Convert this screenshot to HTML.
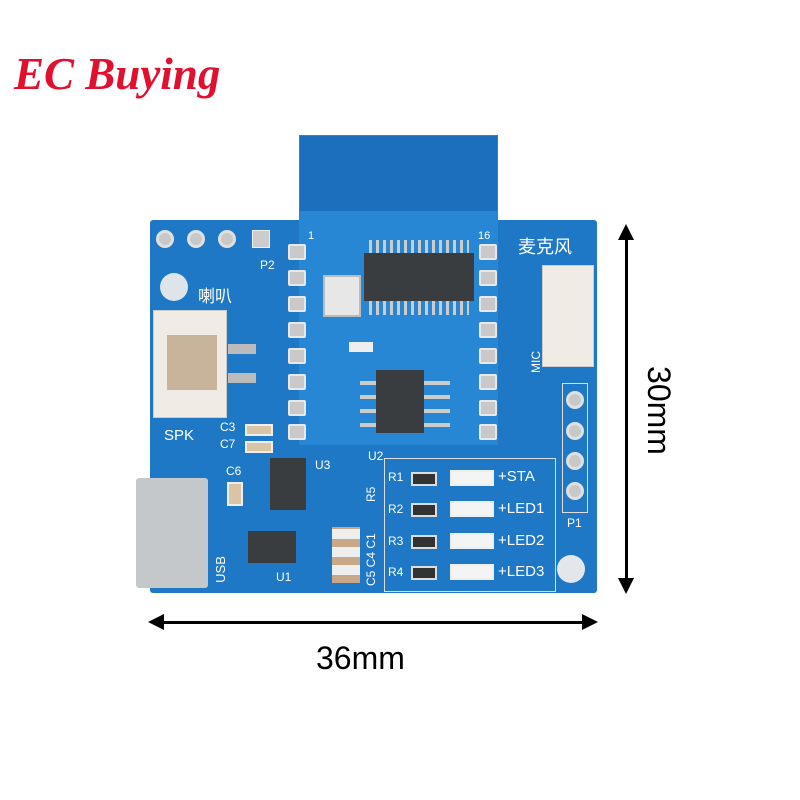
<!DOCTYPE html><html><head><style>
body{margin:0;width:800px;height:800px;background:#fff;position:relative;overflow:hidden;font-family:"Liberation Sans","Noto Sans CJK SC",sans-serif}
.a{position:absolute}
.pad{position:absolute;width:14px;height:12px;background:#c9c9c9;border:2px solid #e8e8e8;border-radius:2px}
.hole{position:absolute;width:12px;height:12px;border-radius:50%;background:#c8c8c8;border:3px solid #e0e0e0}
.t{position:absolute;color:#fff;font-size:14px}
.led{position:absolute;width:40px;height:12px;border:2px solid #eee;background:#f4f4f4}
.res{position:absolute;width:22px;height:10px;border:2px solid #ddd;background:#333}
</style></head><body>
<div class="a" style="left:14px;top:48px;font:italic bold 45px 'Liberation Serif',serif;color:#e0102e">EC Buying</div>
<div class="a" style="left:150px;top:220px;width:447px;height:373px;background:#1e78c6;border-radius:3px"></div>
<div class="a" style="left:299px;top:135px;width:199px;height:310px;background:#2787d4"></div>
<div class="a" style="left:300px;top:136px;width:197px;height:75px;background:#1c6fbd"></div>
<div class="hole" style="left:156px;top:230px"></div><div class="hole" style="left:187px;top:230px"></div><div class="hole" style="left:218px;top:230px"></div>
<div class="a" style="left:252px;top:230px;width:16px;height:16px;background:#ccc;border:1px solid #eee"></div>
<div class="t" style="left:260px;top:258px;font-size:12px">P2</div>
<div class="a" style="left:160px;top:273px;width:28px;height:28px;border-radius:50%;background:#dde4ea"></div>
<div class="t" style="left:198px;top:282px;font-size:17px">喇叭</div>
<div class="a" style="left:153px;top:310px;width:72px;height:106px;background:#f0ebe4;border:1px solid #ccc"></div>
<div class="a" style="left:167px;top:335px;width:50px;height:55px;background:#c8b49a"></div>
<div class="a" style="left:228px;top:344px;width:28px;height:10px;background:#bbb"></div>
<div class="a" style="left:228px;top:373px;width:28px;height:10px;background:#bbb"></div>
<div class="t" style="left:164px;top:427px;font-size:15px">SPK</div>
<div class="t" style="left:220px;top:420px;font-size:12px">C3</div><div class="t" style="left:220px;top:437px;font-size:12px">C7</div>
<div class="a" style="left:245px;top:424px;width:24px;height:8px;background:#d9c4a6;border:2px solid #eee"></div>
<div class="a" style="left:245px;top:441px;width:24px;height:8px;background:#d9c4a6;border:2px solid #eee"></div>
<div class="pad" style="left:288px;top:244px"></div><div class="pad" style="left:288px;top:270px"></div><div class="pad" style="left:288px;top:296px"></div><div class="pad" style="left:288px;top:322px"></div><div class="pad" style="left:288px;top:348px"></div><div class="pad" style="left:288px;top:374px"></div><div class="pad" style="left:288px;top:400px"></div><div class="pad" style="left:288px;top:424px"></div>
<div class="pad" style="left:479px;top:244px"></div><div class="pad" style="left:479px;top:270px"></div><div class="pad" style="left:479px;top:296px"></div><div class="pad" style="left:479px;top:322px"></div><div class="pad" style="left:479px;top:348px"></div><div class="pad" style="left:479px;top:374px"></div><div class="pad" style="left:479px;top:400px"></div><div class="pad" style="left:479px;top:424px"></div>
<div class="t" style="left:308px;top:230px;font-size:11px">1</div><div class="t" style="left:478px;top:230px;font-size:11px">16</div>
<div class="a" style="left:369px;top:240px;width:100px;height:75px;background:repeating-linear-gradient(90deg,#ccc 0 3px,transparent 3px 7px)"></div>
<div class="a" style="left:364px;top:253px;width:110px;height:48px;background:#3a3d40"></div>
<div class="a" style="left:323px;top:275px;width:34px;height:38px;background:#e7e7e7;border:2px solid #bbb"></div>
<div class="a" style="left:360px;top:373px;width:90px;height:60px;background:repeating-linear-gradient(0deg,transparent 0 6px,#ccc 6px 10px,transparent 10px 14px)"></div>
<div class="a" style="left:376px;top:370px;width:48px;height:63px;background:#3a3d40"></div>
<div class="a" style="left:349px;top:342px;width:24px;height:10px;background:#eee"></div>
<div class="t" style="left:368px;top:449px;font-size:12px">U2</div>
<div class="t" style="left:518px;top:233px;font-size:18px">麦克风</div>
<div class="a" style="left:542px;top:265px;width:50px;height:100px;background:#f0ebe4;border:1px solid #ccc"></div>
<div class="t" style="left:525px;top:355px;font-size:12px;transform:rotate(-90deg)">MIC</div>
<div class="a" style="left:562px;top:383px;width:24px;height:128px;border:1px solid #ddd"></div>
<div class="hole" style="left:566px;top:391px"></div><div class="hole" style="left:566px;top:422px"></div><div class="hole" style="left:566px;top:452px"></div><div class="hole" style="left:566px;top:482px"></div>
<div class="t" style="left:567px;top:516px;font-size:12px">P1</div>
<div class="a" style="left:557px;top:555px;width:28px;height:28px;border-radius:50%;background:#e3e6ea"></div>
<div class="a" style="left:384px;top:458px;width:170px;height:132px;border:1px solid #ddd"></div>
<div class="t" style="left:388px;top:470px;font-size:12px">R1</div><div class="res" style="left:411px;top:472px"></div><div class="led" style="left:450px;top:470px"></div><div class="t" style="left:498px;top:468px;font-size:15px">+STA</div>
<div class="t" style="left:388px;top:502px;font-size:12px">R2</div><div class="res" style="left:411px;top:503px"></div><div class="led" style="left:450px;top:501px"></div><div class="t" style="left:498px;top:500px;font-size:15px">+LED1</div>
<div class="t" style="left:388px;top:534px;font-size:12px">R3</div><div class="res" style="left:411px;top:535px"></div><div class="led" style="left:450px;top:533px"></div><div class="t" style="left:498px;top:532px;font-size:15px">+LED2</div>
<div class="t" style="left:388px;top:565px;font-size:12px">R4</div><div class="res" style="left:411px;top:566px"></div><div class="led" style="left:450px;top:564px"></div><div class="t" style="left:498px;top:563px;font-size:15px">+LED3</div>
<div class="a" style="left:136px;top:478px;width:72px;height:110px;background:#c5c8cb;border-radius:3px"></div>
<div class="t" style="left:207px;top:562px;font-size:13px;transform:rotate(-90deg)">USB</div>
<div class="t" style="left:226px;top:464px;font-size:12px">C6</div>
<div class="a" style="left:227px;top:482px;width:12px;height:20px;background:#d9c4a6;border:2px solid #eee"></div>
<div class="a" style="left:270px;top:458px;width:36px;height:52px;background:#3a3d40"></div>
<div class="t" style="left:315px;top:458px;font-size:12px">U3</div>
<div class="a" style="left:248px;top:531px;width:48px;height:32px;background:#3a3d40"></div>
<div class="t" style="left:276px;top:570px;font-size:12px">U1</div>
<div class="a" style="left:332px;top:527px;width:28px;height:56px;background:repeating-linear-gradient(0deg,#c9a88a 0 8px,#eee 8px 18px)"></div>
<div class="t" style="left:364px;top:586px;font-size:12px;transform:rotate(-90deg);transform-origin:0 0;white-space:nowrap">C5 C4 C1</div>
<div class="t" style="left:364px;top:502px;font-size:12px;transform:rotate(-90deg);transform-origin:0 0">R5</div>
<div class="a" style="left:158px;top:621px;width:432px;height:3px;background:#000"></div>
<div class="a" style="left:148px;top:614px;border-right:16px solid #000;border-top:8px solid transparent;border-bottom:8px solid transparent"></div>
<div class="a" style="left:582px;top:614px;border-left:16px solid #000;border-top:8px solid transparent;border-bottom:8px solid transparent"></div>
<div class="a" style="left:316px;top:640px;font-size:32px;color:#000">36mm</div>
<div class="a" style="left:625px;top:236px;width:3px;height:346px;background:#000"></div>
<div class="a" style="left:618px;top:224px;border-bottom:16px solid #000;border-left:8px solid transparent;border-right:8px solid transparent"></div>
<div class="a" style="left:618px;top:578px;border-top:16px solid #000;border-left:8px solid transparent;border-right:8px solid transparent"></div>
<div class="a" style="left:614px;top:392px;font-size:32px;color:#000;transform:rotate(90deg)">30mm</div>
</body></html>
